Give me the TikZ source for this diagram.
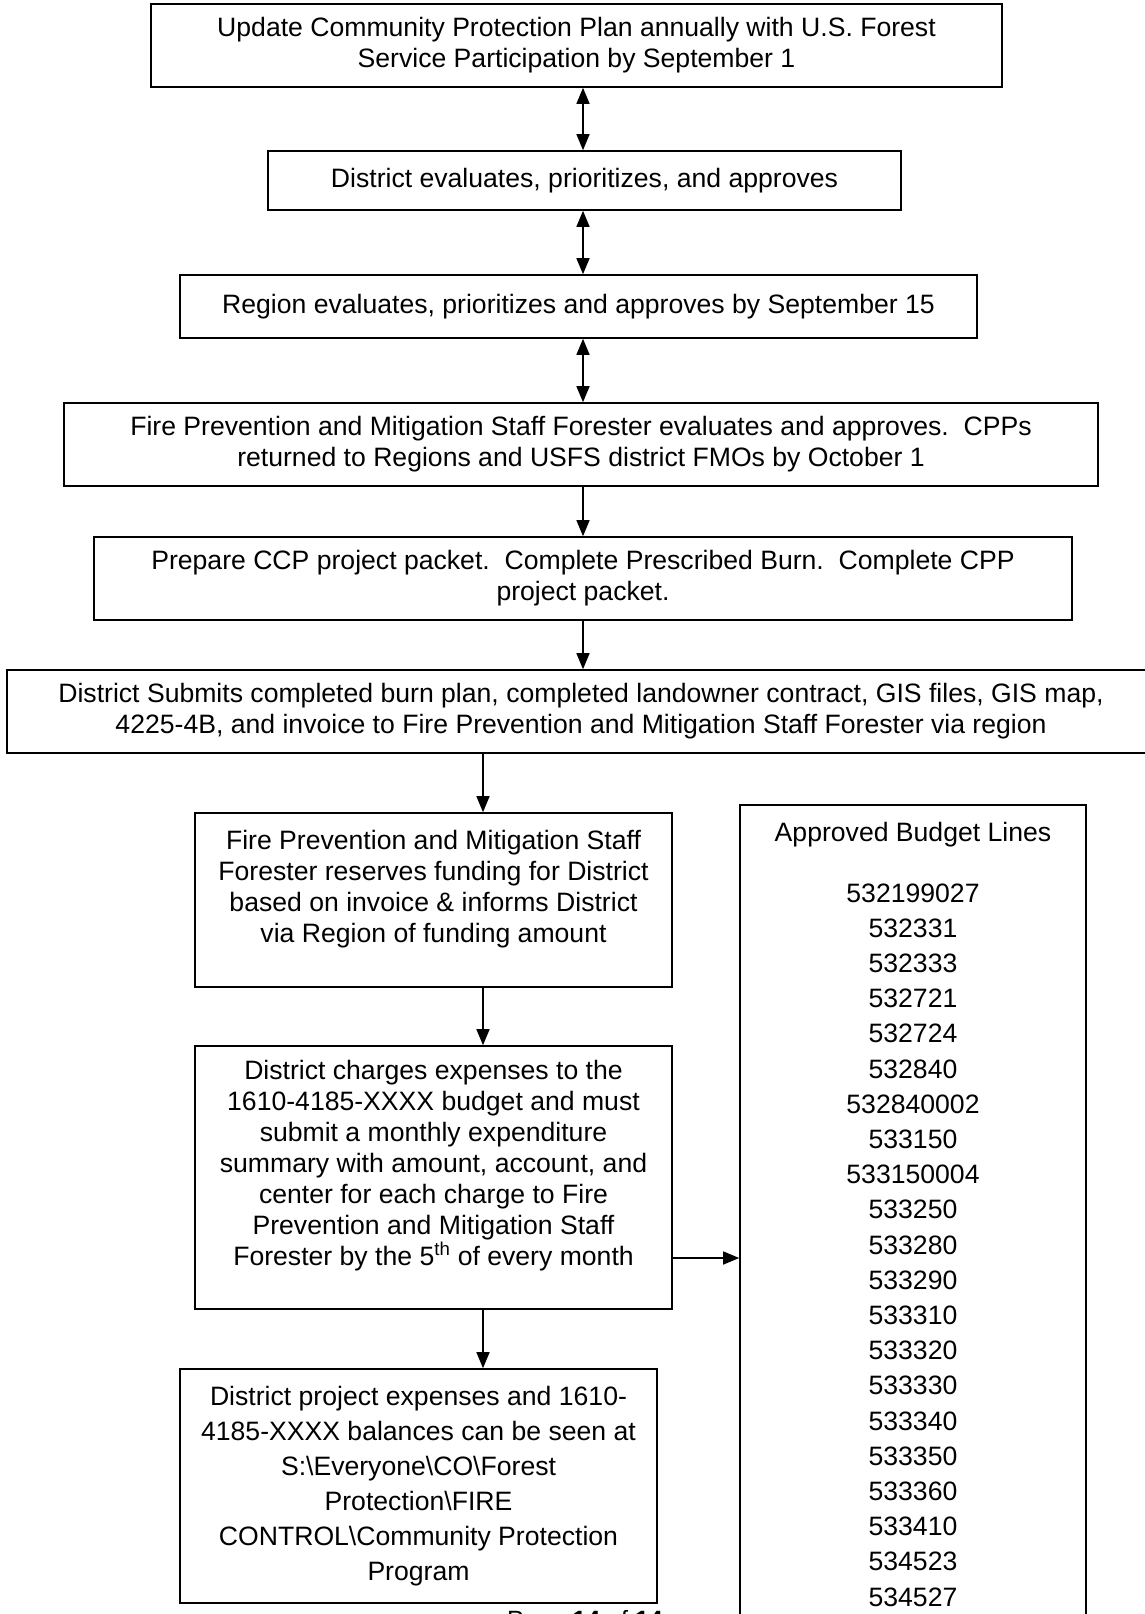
\documentclass[tikz,border=0pt]{standalone}
\usepackage{fontspec}
\setmainfont{Liberation Sans}
\usetikzlibrary{arrows.meta}

\begin{document}
\begin{tikzpicture}[x=1pt, y=-1pt,
		stepbox/.style={draw, line width=1.6pt, align=center, inner sep=0pt,
			font=\fontsize{26.6pt}{31pt}\selectfont},
		loose/.style={font=\fontsize{26.6pt}{35pt}\selectfont},
		flow/.style={line width=1.4pt, -{Triangle[length=16pt, width=13pt]}},
		both ways/.style={line width=1.4pt, {Triangle[length=16pt, width=13pt]}-{Triangle[length=16pt, width=13pt]}}]
			\useasboundingbox (0,0) rectangle (1145,1614);
			\coordinate (axis) at (583,0);
			\coordinate (low axis) at (483,0);
			\coordinate (tap) at (0,1258);
			% main column
			\node[stepbox, minimum width=851pt, minimum height=83pt] (plan) at (576.5,45.5)
			  {Update Community Protection Plan annually with U.S. Forest\\Service Participation by September 1};
			\node[stepbox, minimum width=633pt, minimum height=59pt] (district) at (584.5,180.5)
			  {District evaluates, prioritizes, and approves};
			\node[stepbox, minimum width=797pt, minimum height=63pt] (region) at (578.5,306.5)
			  {Region evaluates, prioritizes and approves by September 15};
			\node[stepbox, minimum width=1034pt, minimum height=83pt] (staff) at (581,444.5)
			  {Fire Prevention and Mitigation Staff Forester evaluates and approves.\ \ CPPs\\returned to Regions and USFS district FMOs by October 1};
			\node[stepbox, minimum width=978pt, minimum height=83pt] (packet) at (583,578.5)
			  {Prepare CCP project packet.\ \ Complete Prescribed Burn.\ \ Complete CPP\\project packet.};
			\node[stepbox, minimum width=1148pt, minimum height=83pt] (submit) at (581,711.5)
			  {District Submits completed burn plan, completed landowner contract, GIS files, GIS map,\\4225-4B, and invoice to Fire Prevention and Mitigation Staff Forester via region};
			% lower column
			\node[stepbox, minimum width=477pt, minimum height=174pt] (reserve) at (433.5,900)
			  {Fire Prevention and Mitigation Staff\\Forester reserves funding for District\\based on invoice \& informs District\\via Region of funding amount\\[-13pt]\strut};
			\node[stepbox, minimum width=477pt, minimum height=263pt] (charges) at (433.5,1177.5)
			  {District charges expenses to the\\1610-4185-XXXX budget and must\\submit a monthly expenditure\\summary with amount, account, and\\center for each charge to Fire\\Prevention and Mitigation Staff\\Forester by the 5\textsuperscript{th} of every month\\[-10pt]\strut};
			\node[stepbox, loose, minimum width=477pt, minimum height=234pt] (seen) at (418.5,1486)
			  {District project expenses and 1610-\\4185-XXXX balances can be seen at\\S:\textbackslash Everyone\textbackslash CO\textbackslash Forest\\Protection\textbackslash FIRE\\CONTROL\textbackslash Community Protection\\Program};
			% budget lines
			\node[draw, line width=1.6pt, minimum width=346pt, minimum height=900pt, anchor=north] (budget) at (913,804) {};
			\node[loose, anchor=base] (title) at (913,841) {Approved Budget Lines};
			\foreach \n [count=\i] in {532199027,532331,532333,532721,532724,532840,532840002,
			  533150,533150004,533250,533280,533290,533310,533320,533330,533340,533350,
			  533360,533410,534523,534527}{
			    \node[loose, anchor=base] (line\i) at (913,{902+35.2*(\i-1)}) {\n};
			}
			\node[font=\fontsize{25pt}{30pt}\selectfont, anchor=base] (page) at (585,1628)
			  {Page \textbf{14} of \textbf{14}};
			% connectors
			\draw[both ways] (plan.south -| axis) -- (district.north -| axis);
			\draw[both ways] (district.south -| axis) -- (region.north -| axis);
			\draw[both ways] (region.south -| axis) -- (staff.north -| axis);
			\draw[flow] (staff.south -| axis) -- (packet.north -| axis);
			\draw[flow] (packet.south -| axis) -- (submit.north -| axis);
			\draw[flow] (submit.south -| low axis) -- (reserve.north -| low axis);
			\draw[flow] (reserve.south -| low axis) -- (charges.north -| low axis);
			\draw[flow] (charges.south -| low axis) -- (seen.north -| low axis);
			\draw[flow] (charges.east |- tap) -- (budget.west |- tap);
		\end{tikzpicture}
\end{document}
